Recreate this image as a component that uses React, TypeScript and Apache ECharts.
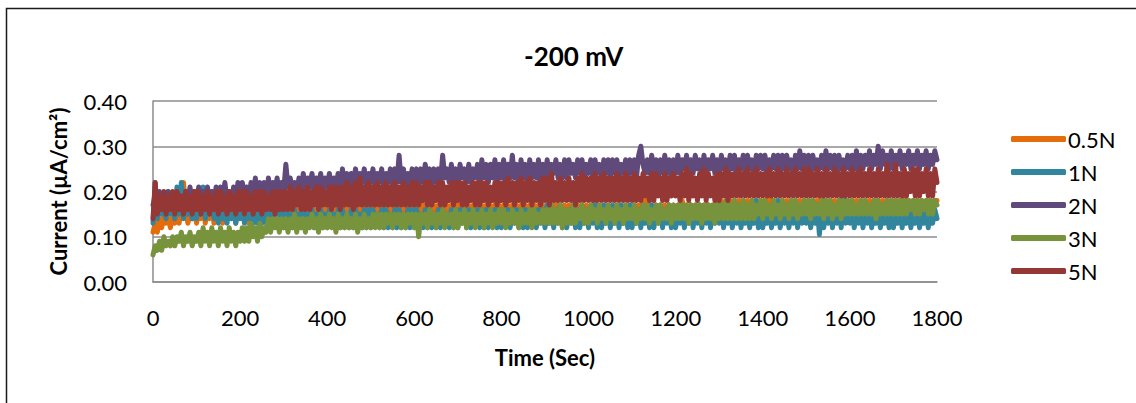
import React, { useEffect, useRef } from "react";
import * as echarts from "echarts";

const TITLE = "-200 mV";
const X_NAME = "Time (Sec)";
const Y_NAME = "Current (µA/cm²)";
const SERIES_NAMES = ["0.5N", "1N", "2N", "3N", "5N"];
const COLORS = ["#E46C0A", "#31859C", "#604A7B", "#77933C", "#953735"];
const STEP_SEC = 5;
const UNIT = 0.01; // values below are in hundredths of µA/cm²

// one row = 50 s (10 samples every 5 s)
const S_05N = [
  11, 13, 11, 14, 12, 15, 13, 14, 12, 15,
  13, 15, 13, 16, 22, 16, 13, 15, 14, 16,
  13, 16, 14, 17, 13, 16, 14, 17, 13, 16,
  14, 17, 13, 16, 14, 17, 14, 16, 13, 17,
  14, 16, 14, 17, 13, 16, 14, 17, 14, 16,
  14, 17, 14, 16, 14, 17, 13, 17, 14, 16,
  14, 17, 15, 17, 14, 16, 15, 17, 14, 17,
  15, 17, 14, 17, 15, 16, 14, 17, 15, 17,
  14, 17, 15, 17, 14, 17, 15, 16, 14, 17,
  15, 17, 14, 17, 15, 17, 15, 17, 14, 17,
  15, 17, 15, 17, 14, 17, 15, 17, 15, 17,
  14, 17, 15, 17, 15, 17, 14, 17, 15, 17,
  15, 17, 15, 18, 15, 17, 14, 17, 15, 17,
  15, 17, 15, 17, 15, 17, 15, 17, 15, 18,
  15, 17, 15, 17, 15, 17, 15, 17, 15, 17,
  15, 17, 15, 17, 15, 17, 15, 17, 15, 17,
  15, 17, 15, 17, 15, 17, 15, 17, 16, 17,
  15, 17, 16, 17, 15, 17, 15, 17, 16, 17,
  15, 17, 16, 17, 15, 18, 16, 17, 15, 17,
  16, 17, 15, 17, 16, 17, 16, 17, 15, 17,
  16, 17, 15, 18, 16, 17, 16, 17, 15, 17,
  16, 17, 16, 17, 15, 17, 16, 17, 16, 17,
  16, 17, 16, 17, 16, 18, 16, 19, 16, 17,
  16, 17, 16, 17, 16, 17, 16, 17, 16, 17,
  16, 17, 16, 18, 16, 17, 16, 17, 16, 17,
  16, 17, 16, 17, 16, 17, 16, 17, 16, 18,
  16, 18, 16, 17, 16, 18, 17, 18, 16, 18,
  16, 18, 17, 18, 16, 18, 16, 18, 17, 18,
  16, 18, 17, 19, 16, 18, 17, 18, 16, 18,
  17, 18, 16, 18, 17, 18, 16, 18, 17, 18,
  17, 18, 16, 18, 17, 18, 16, 19, 17, 18,
  16, 18, 17, 18, 16, 18, 17, 18, 16, 18,
  17, 18, 16, 18, 17, 18, 17, 18, 16, 18,
  17, 18, 16, 18, 17, 18, 17, 18, 16, 18,
  17, 18, 17, 18, 17, 19, 16, 18, 17, 18,
  16, 18, 17, 18, 17, 18, 16, 18, 17, 18,
  18,
];

const S_1N = [
  13, 22, 14, 19, 15, 18, 14, 20, 15, 19,
  14, 21, 15, 22, 14, 20, 15, 19, 14, 18,
  14, 19, 15, 21, 14, 18, 15, 20, 14, 19,
  13, 18, 14, 19, 13, 18, 14, 18, 13, 17,
  14, 17, 13, 17, 14, 16, 13, 17, 13, 16,
  13, 17, 13, 16, 14, 17, 13, 16, 13, 16,
  12, 16, 13, 15, 12, 16, 12, 15, 12, 16,
  12, 15, 13, 16, 12, 15, 12, 16, 12, 15,
  12, 16, 13, 15, 12, 16, 12, 16, 12, 15,
  12, 16, 12, 16, 12, 15, 12, 16, 12, 16,
  12, 16, 13, 15, 12, 16, 12, 16, 12, 15,
  12, 16, 12, 16, 12, 15, 12, 16, 12, 16,
  12, 16, 13, 15, 12, 16, 12, 16, 12, 15,
  12, 16, 12, 16, 13, 15, 12, 16, 12, 16,
  12, 16, 13, 16, 12, 16, 12, 15, 13, 16,
  12, 16, 12, 16, 12, 15, 13, 16, 12, 16,
  12, 16, 13, 16, 12, 16, 13, 16, 12, 16,
  12, 16, 12, 16, 13, 16, 12, 16, 13, 16,
  12, 17, 13, 16, 12, 16, 13, 17, 12, 16,
  12, 16, 13, 17, 12, 16, 12, 17, 13, 16,
  12, 16, 13, 17, 12, 16, 12, 17, 13, 16,
  12, 17, 13, 16, 12, 17, 13, 16, 12, 17,
  12, 17, 13, 16, 12, 17, 13, 16, 12, 17,
  12, 16, 13, 17, 12, 16, 13, 17, 12, 16,
  12, 16, 13, 17, 12, 16, 13, 17, 12, 16,
  13, 17, 12, 16, 13, 17, 12, 16, 13, 17,
  13, 17, 12, 16, 13, 17, 12, 16, 13, 17,
  12, 17, 13, 16, 12, 17, 13, 18, 12, 16,
  12, 17, 13, 16, 12, 17, 13, 18, 12, 16,
  13, 17, 12, 16, 13, 17, 12, 16, 13, 17,
  13, 17, 12, 16, 13, 17, 10.5, 16, 12, 16,
  13, 17, 12, 16, 13, 17, 12, 19, 13, 16,
  13, 17, 12, 16, 13, 17, 12, 16, 13, 16,
  12, 17, 13, 16, 12, 17, 13, 16, 12, 17,
  12, 17, 13, 16, 12, 17, 13, 16, 12, 17,
  13, 16, 12, 17, 13, 16, 12, 17, 13, 16,
  14,
];

const S_2N = [
  17, 19, 16, 20, 18, 19, 16, 20, 17, 19,
  17, 20, 18, 19, 16, 20, 18, 21, 17, 20,
  18, 21, 17, 20, 18, 21, 17, 20, 18, 21,
  17, 21, 18, 22, 18, 20, 17, 21, 18, 22,
  18, 22, 19, 21, 18, 22, 19, 23, 18, 22,
  19, 22, 18, 23, 19, 22, 20, 23, 19, 22,
  20, 26, 21, 23, 20, 22, 19, 23, 20, 24,
  20, 23, 21, 24, 20, 23, 21, 24, 20, 23,
  21, 24, 20, 23, 21, 24, 21, 25, 20, 24,
  21, 24, 22, 25, 21, 24, 22, 25, 21, 24,
  22, 25, 21, 24, 22, 25, 21, 24, 22, 25,
  21, 25, 22, 28, 22, 25, 21, 24, 22, 25,
  22, 25, 21, 25, 22, 26, 22, 25, 21, 25,
  22, 25, 22, 28, 23, 25, 22, 26, 22, 25,
  22, 26, 23, 25, 22, 26, 22, 25, 23, 26,
  22, 27, 23, 26, 22, 26, 23, 27, 22, 26,
  23, 27, 22, 26, 23, 28, 23, 26, 22, 27,
  23, 26, 22, 27, 23, 26, 23, 27, 22, 26,
  23, 27, 23, 26, 24, 27, 23, 26, 23, 27,
  23, 27, 24, 26, 23, 27, 24, 27, 23, 26,
  24, 27, 23, 27, 24, 26, 23, 27, 24, 27,
  23, 27, 24, 27, 23, 26, 24, 27, 23, 27,
  24, 27, 23, 28, 30, 26, 24, 27, 24, 28,
  24, 27, 23, 27, 24, 28, 24, 27, 23, 27,
  24, 28, 24, 27, 25, 28, 24, 27, 24, 28,
  25, 27, 24, 28, 24, 27, 25, 28, 24, 27,
  24, 28, 25, 27, 24, 28, 25, 28, 24, 27,
  25, 28, 24, 28, 25, 27, 24, 28, 25, 28,
  25, 28, 24, 27, 25, 28, 25, 28, 24, 28,
  25, 28, 25, 27, 24, 28, 25, 29, 25, 28,
  25, 28, 24, 28, 25, 27, 25, 28, 25, 29,
  25, 28, 25, 28, 24, 28, 25, 27, 25, 28,
  25, 28, 25, 29, 24, 28, 25, 28, 26, 29,
  25, 28, 26, 30, 25, 29, 26, 28, 25, 29,
  25, 28, 26, 29, 25, 28, 26, 29, 25, 28,
  26, 29, 25, 28, 26, 29, 25, 28, 26, 29,
  27,
];

const S_3N = [
  6, 8, 7, 9, 7, 10, 8, 9, 8, 10,
  8, 10, 9, 11, 8, 10, 9, 11, 8, 10,
  9, 11, 8, 12, 9, 11, 8, 12, 9, 11,
  8, 12, 9, 11, 8, 12, 9, 11, 8, 11,
  9, 12, 9, 12, 9, 13, 10, 12, 9, 13,
  10, 12, 11, 14, 11, 14, 12, 14, 11, 14,
  12, 14, 11, 14, 12, 15, 11, 14, 12, 14,
  11, 14, 12, 15, 12, 14, 11, 15, 12, 14,
  12, 15, 12, 14, 11, 15, 12, 14, 12, 15,
  12, 14, 12, 15, 11, 14, 12, 15, 12, 14,
  12, 15, 12, 15, 12, 15, 12, 15, 13, 15,
  12, 15, 13, 15, 12, 15, 12, 15, 13, 15,
  12, 15, 10, 15, 13, 15, 12, 16, 13, 15,
  12, 15, 13, 16, 12, 15, 13, 15, 12, 16,
  12, 15, 13, 16, 12, 15, 13, 16, 12, 15,
  13, 16, 12, 15, 13, 16, 12, 15, 13, 16,
  13, 16, 12, 15, 13, 16, 13, 15, 12, 16,
  13, 15, 13, 16, 12, 16, 13, 15, 13, 16,
  13, 16, 13, 17, 13, 16, 13, 17, 12, 16,
  13, 16, 13, 17, 13, 16, 14, 17, 13, 16,
  13, 17, 14, 16, 13, 17, 14, 16, 13, 17,
  14, 16, 13, 17, 14, 16, 13, 17, 14, 16,
  14, 17, 13, 16, 14, 17, 14, 17, 13, 16,
  14, 17, 13, 17, 14, 16, 14, 17, 13, 17,
  14, 17, 14, 17, 14, 17, 13, 17, 14, 17,
  14, 17, 13, 17, 14, 17, 14, 17, 13, 17,
  14, 17, 14, 18, 14, 17, 14, 18, 14, 17,
  14, 18, 14, 17, 14, 18, 14, 17, 15, 18,
  14, 18, 15, 17, 14, 18, 15, 17, 14, 18,
  15, 17, 14, 18, 15, 18, 14, 17, 15, 18,
  15, 18, 14, 18, 15, 17, 15, 18, 14, 18,
  15, 18, 14, 17, 15, 18, 14, 18, 15, 18,
  15, 18, 15, 17, 15, 18, 15, 18, 15, 17,
  15, 18, 14, 18, 15, 17, 15, 18, 15, 18,
  15, 18, 15, 18, 15, 18, 15, 18, 16, 18,
  15, 18, 15, 18, 16, 18, 15, 18, 15, 18,
  17,
];

const S_5N = [
  14, 22, 15, 19, 16, 20, 15, 19, 16, 20,
  15, 20, 16, 19, 15, 20, 16, 19, 15, 20,
  16, 20, 15, 19, 16, 20, 15, 19, 16, 20,
  15, 20, 16, 19, 15, 20, 16, 19, 15, 20,
  16, 20, 15, 20, 16, 19, 15, 20, 16, 20,
  15, 20, 16, 19, 16, 20, 15, 20, 16, 20,
  16, 20, 16, 21, 16, 20, 17, 21, 16, 20,
  16, 21, 16, 20, 17, 21, 16, 21, 17, 20,
  17, 21, 16, 21, 17, 21, 16, 21, 17, 22,
  17, 21, 16, 22, 17, 23, 17, 21, 17, 22,
  17, 21, 17, 22, 17, 21, 17, 22, 17, 21,
  17, 22, 17, 21, 17, 22, 17, 21, 17, 22,
  17, 22, 17, 21, 18, 22, 17, 22, 17, 21,
  18, 22, 17, 22, 17, 21, 18, 22, 17, 22,
  18, 22, 17, 22, 17, 21, 18, 22, 17, 22,
  17, 22, 18, 22, 17, 21, 18, 22, 17, 22,
  18, 22, 17, 23, 18, 22, 17, 22, 18, 23,
  17, 22, 18, 23, 17, 22, 18, 22, 17, 23,
  18, 23, 17, 24, 18, 22, 18, 23, 18, 22,
  18, 23, 18, 22, 17, 23, 18, 24, 18, 23,
  18, 23, 18, 24, 18, 23, 18, 24, 18, 23,
  18, 23, 18, 24, 18, 23, 18, 24, 18, 23,
  18, 24, 18, 23, 18, 24, 19, 23, 18, 24,
  18, 24, 19, 23, 18, 24, 18, 23, 19, 24,
  19, 23, 18, 24, 19, 25, 18, 24, 19, 23,
  18, 24, 19, 25, 18, 24, 19, 23, 18, 24,
  18, 24, 19, 25, 18, 24, 19, 24, 19, 25,
  19, 24, 19, 25, 19, 24, 19, 25, 19, 24,
  19, 24, 19, 25, 19, 24, 19, 25, 19, 24,
  19, 25, 19, 24, 19, 25, 19, 24, 19, 25,
  19, 25, 19, 24, 19, 25, 19, 24, 19, 25,
  19, 24, 19, 25, 19, 24, 19, 25, 19, 24,
  19, 25, 19, 24, 19, 25, 19, 24, 19, 25,
  19, 24, 19, 25, 19, 24, 19, 26, 19, 24,
  19, 26, 19, 24, 19, 25, 19, 24, 20, 25,
  19, 25, 19, 24, 20, 25, 19, 24, 19, 25,
  22,
];

const SERIES_VALUES = [S_05N, S_1N, S_2N, S_3N, S_5N];
const Y_TICKS = [0, 0.1, 0.2, 0.3, 0.4];
const X_MAX = 1800;
const X_INTERVAL = 200;

const FONT = "Lato, 'Open Sans', sans-serif";

export default function App() {
  const ref = useRef<HTMLDivElement>(null);
  useEffect(() => {
    if (!ref.current) return;
    const chart = echarts.init(ref.current, undefined, { renderer: "svg" });
    const series = SERIES_NAMES.map((name, i) => ({
      name,
      type: "line",
      showSymbol: false,
      symbol: "none",
      data: SERIES_VALUES[i].map((v, k) => [k * STEP_SEC, v * UNIT]),
      lineStyle: { color: COLORS[i], width: 5, join: "round", cap: "round" },
      itemStyle: { color: COLORS[i] },
      color: COLORS[i],
      z: 2 + i,
    }));
    chart.setOption({
      animation: false,
      backgroundColor: "#ffffff",
      textStyle: { fontFamily: FONT },
      title: {
        text: TITLE,
        left: 519,
        top: 38,
        textStyle: { fontFamily: FONT, fontSize: 26, fontWeight: "bold", color: "#000" },
      },
      graphic: [
        {
          type: "rect",
          shape: { x: 6.5, y: 8.5, width: 1300, height: 600 },
          style: { fill: "none", stroke: "#1a1a1a", lineWidth: 1.5 },
          silent: true,
        },
      ],
      legend: {
        orient: "vertical",
        left: 1006,
        top: 122,
        itemWidth: 55,
        itemHeight: 6,
        itemGap: 9,
        icon: "roundRect",
        data: SERIES_NAMES,
        textStyle: { fontFamily: FONT, fontSize: 22, color: "#000", lineHeight: 24, padding: [0, 0, 0, -3] },
      },
      grid: { left: 153, right: 199, top: 101, bottom: 121, containLabel: false },
      xAxis: {
        type: "value",
        min: 0,
        max: X_MAX,
        interval: X_INTERVAL,
        name: X_NAME,
        nameLocation: "middle",
        nameGap: 64,
        nameTextStyle: { fontFamily: FONT, fontSize: 22, fontWeight: "bold", color: "#000" },
        axisLine: { show: true, lineStyle: { color: "#8c8c8c", width: 1.5 } },
        axisTick: { show: false },
        splitLine: { show: false },
        axisLabel: {
          fontFamily: FONT,
          fontSize: 22,
          color: "#000",
          margin: 24,
          formatter: (v: number) => String(v),
        },
      },
      yAxis: {
        type: "value",
        min: Y_TICKS[0],
        max: Y_TICKS[Y_TICKS.length - 1],
        interval: 0.1,
        name: Y_NAME,
        nameLocation: "middle",
        nameGap: 84,
        nameTextStyle: { fontFamily: FONT, fontSize: 22, fontWeight: "bold", color: "#000" },
        axisLine: { show: true, lineStyle: { color: "#8c8c8c", width: 1.5 } },
        axisTick: { show: false },
        splitLine: { show: true, lineStyle: { color: "#8c8c8c", width: 1.5 } },
        axisLabel: {
          fontFamily: FONT,
          fontSize: 22,
          color: "#000",
          margin: 26,
          formatter: (v: number) => v.toFixed(2),
        },
      },
      series,
    });
    return () => chart.dispose();
  }, []);
  return (
    <div
      ref={ref}
      style={{ position: "absolute", left: 0, top: 0, width: 1136, height: 403, background: "#fff" }}
    />
  );
}
